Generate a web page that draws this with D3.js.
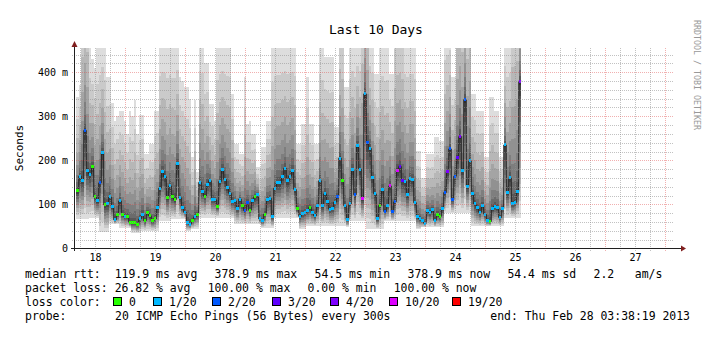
<!DOCTYPE html>
<html><head><meta charset="utf-8">
<script src="https://cdn.jsdelivr.net/npm/d3@7"></script>
<style>
body{margin:0;background:#fff}
svg{display:block}
text{font-family:"DejaVu Sans Mono",monospace;white-space:pre;fill:#000}
</style>
</head><body>
<svg id="c" width="716" height="341"></svg>
<script>
// ---- data (hourly consolidated medians, ms) ----
const median = [
131,164,155,268,177,169,187,117,108,149,
218,99,101,117,95,65,77,108,78,73,
72,59,59,59,55,67,78,63,81,74,
63,67,92,137,175,163,116,142,119,111,
192,115,93,82,59,55,
63,72,78,150,130,119,146,154,112,111,
96,152,180,157,139,125,107,108,91,112,
98,86,104,87,108,117,122,67,63,78,
112,114,72,137,149,149,164,182,154,164,
178,134,90,73,79,82,
86,93,82,74,97,154,97,124,107,89,
91,105,119,205,155,97,65,101,180,122,
234,180,114,351,240,227,161,124,67,98,
133,84,97,142,84,106,177,186,154,152,
122,158,157,104,73,67,
63,57,86,81,88,64,78,73,90,127,
174,226,111,164,206,254,177,338,141,199,
124,101,92,82,97,78,64,61,90,96,
93,70,91,235,127,160,101,104,129,380];
// loss level index per point (into lossLabels)
const lossIdx = [
0,1,1,2,1,1,0,0,1,2,
1,0,1,1,1,1,0,1,0,1,
0,0,0,0,0,1,1,0,0,0,
0,0,1,1,1,1,0,1,0,0,
1,1,1,1,1,1,
0,1,0,1,1,0,1,1,1,1,
0,1,1,1,1,1,1,1,1,1,
0,2,2,0,1,0,1,1,1,0,
1,1,1,1,1,1,1,1,1,1,
1,1,0,1,1,1,
1,0,1,1,1,1,1,1,1,1,
1,1,2,1,0,1,1,1,1,2,
1,1,5,1,2,1,1,1,1,0,
1,2,1,5,2,2,5,3,3,1,
1,1,1,1,1,1,
1,1,1,1,1,1,0,0,1,2,
4,2,2,2,3,4,1,2,1,1,
1,1,1,1,1,1,1,0,1,1,
1,1,1,1,1,1,1,1,1,4];
// slowest ping per point (ms, estimated; columns clipped at the top estimated above the frame)
const hiPing = [
344,370,650,650,650,455,430,410,455,470,
470,470,390,390,330,290,300,313,313,290,
260,313,300,336,260,302,302,215,215,237,
237,313,313,470,470,470,470,470,470,470,
470,390,380,366,366,340,
207,336,173,480,480,420,420,328,328,290,
470,470,470,470,470,470,351,237,237,215,
215,390,283,290,260,260,184,184,230,230,
290,290,470,470,470,470,470,470,470,470,
470,470,237,237,283,283,
390,283,283,237,237,470,470,435,435,435,
435,275,275,560,560,366,366,470,470,470,
470,470,650,650,650,470,470,397,397,470,
470,470,470,397,397,560,560,560,560,470,
470,470,470,470,222,222,
161,161,215,215,215,252,252,245,245,520,
520,520,390,390,650,650,650,650,650,650,
351,351,313,313,313,207,207,344,344,313,
313,207,207,470,470,470,650,650,650,650];
// fastest ping per point (ms)
const loPing = [
68,68,68,68,68,70,70,70,70,38,
38,38,38,55,55,55,55,47,47,47,
47,47,36,36,36,36,40,40,40,40,
40,40,40,62,62,62,62,62,67,67,
67,67,67,67,40,40,
45,45,45,70,70,70,70,70,70,70,
70,70,70,70,70,70,70,55,55,55,
55,55,55,55,55,55,55,55,47,47,
47,47,47,70,70,70,70,70,70,70,
70,70,70,44,44,44,
51,51,51,51,51,51,51,51,51,51,
51,51,51,51,51,51,48,62,62,62,
62,62,62,62,44,44,44,44,44,44,
44,62,62,62,62,62,62,62,62,62,
62,62,62,62,44,44,
48,48,48,48,48,48,48,48,48,80,
80,80,80,80,80,80,80,80,80,80,
50,50,50,50,50,50,50,50,50,50,
50,50,50,70,70,70,70,70,70,70];
const lossLabels = ["0","1/20","2/20","3/20","4/20","10/20","19/20"];
const lossColors = ["#26ff00","#00b8ff","#0059ff","#5e00ff","#7e00ff","#dd00ff","#ff0000"];
const dayLabels = ["18","19","20","21","22","23","24","25","26","27"];
const yTicks = [0,100,200,300,400];
const spanHours = 240;          // last 10 days
const firstMidnight = 20.362;   // hours from graph start to Feb 19 00:00
const firstBin = 0.9;           // hours from graph start to first hourly bin
const yMax = 455;
const rttLegend = ["median rtt:  ","119.9 ms avg  ","378.9 ms max  ","54.5 ms min  ","378.9 ms now  ","54.4 ms sd  ","2.2   am/s"];
const lossLegend = ["packet loss: ","26.82 % avg  ","100.00 % max  ","0.00 % min  ","100.00 % now"];
const probeText = "20 ICMP Echo Pings (56 Bytes) every 300s";
const endText = "end: Thu Feb 28 03:38:19 2013";

// ---- drawing ----
const svg = d3.select("#c");
svg.append("rect").attr("width",716).attr("height",341).attr("fill","#fff");
const L=74, R=674, T=48, B=248.5;
const x = d3.scaleLinear().domain([0,spanHours]).range([L,R]);
const y = d3.scaleLinear().domain([0,yMax]).range([B,T]);

svg.append("defs").append("clipPath").attr("id","pc")
  .append("rect").attr("x",L).attr("y",T).attr("width",R-L).attr("height",B-T);

const pts = median.map((m,i)=>({h:firstBin+i, med:m,
  lo:Math.min(loPing[i], m*0.85), hi:Math.max(hiPing[i], m*1.1), loss:lossIdx[i]}));
const ext = pts.concat([Object.assign({},pts[pts.length-1],{h:pts[pts.length-1].h+1})]);
function ping(p,k){
  const u=(k-1)/19;
  if(u<0.5) return p.med-(p.med-p.lo)*Math.pow((0.5-u)/0.5,1.2);
  return p.med+(p.hi-p.med)*Math.pow((u-0.5)/0.5,2.4);
}
const g = svg.append("g").attr("clip-path","url(#pc)");
for(let k=1;k<=10;k++){
  const c = 50 + Math.floor(190/10*(10-k));
  const area = d3.area().curve(d3.curveStepAfter)
    .x(d=>x(d.h)).y0(d=>y(ping(d,k))).y1(d=>y(ping(d,21-k)));
  g.append("path").datum(ext).attr("d",area)
    .attr("fill",d3.rgb(c,c,c)).attr("shape-rendering","crispEdges");
}
// median line
g.append("path").datum(ext)
  .attr("d",d3.line().curve(d3.curveStepAfter).x(d=>x(d.h)).y(d=>y(d.med)))
  .attr("fill","none").attr("stroke","#202020").attr("stroke-width",1);
// loss-colored medians
g.selectAll("rect.med").data(pts).enter().append("rect")
  .attr("x",d=>x(d.h)).attr("width",d=>x(d.h+1)-x(d.h))
  .attr("y",d=>y(d.med)-1.5).attr("height",3)
  .attr("fill",d=>lossColors[d.loss]).attr("shape-rendering","crispEdges");

// grid (on top)
const grid = svg.append("g").attr("stroke-dasharray","1,1").attr("shape-rendering","crispEdges");
const minorY = d3.range(20,yMax,20).filter(v=>v%100!==0);
const majorY = yTicks.filter(v=>v>0);
const gridCol = "rgba(143,143,143,0.55)", mgridCol = "rgba(225,80,80,0.45)";
grid.selectAll("line.hy").data(minorY).enter().append("line")
  .attr("x1",L-2).attr("x2",R).attr("y1",d=>Math.round(y(d))+0.5).attr("y2",d=>Math.round(y(d))+0.5)
  .attr("stroke",gridCol);
const minorX = d3.range(firstMidnight-18, spanHours, 6).filter(h=>h>0 && Math.abs(((h-firstMidnight)%24+24)%24)>0.01);
const majorX = d3.range(firstMidnight, spanHours, 24);
grid.selectAll("line.vx").data(minorX).enter().append("line")
  .attr("y1",T).attr("y2",B+2).attr("x1",d=>Math.round(x(d))+0.5).attr("x2",d=>Math.round(x(d))+0.5)
  .attr("stroke",gridCol);
grid.selectAll("line.my").data(majorY).enter().append("line")
  .attr("x1",L-2).attr("x2",R).attr("y1",d=>Math.round(y(d))+0.5).attr("y2",d=>Math.round(y(d))+0.5)
  .attr("stroke",mgridCol);
grid.selectAll("line.mx").data(majorX).enter().append("line")
  .attr("y1",T).attr("y2",B+2).attr("x1",d=>Math.round(x(d))+0.5).attr("x2",d=>Math.round(x(d))+0.5)
  .attr("stroke",mgridCol);

// axes lines + arrows
const ax = svg.append("g").attr("shape-rendering","crispEdges");
ax.append("line").attr("x1",L-3).attr("x2",681).attr("y1",248.5).attr("y2",248.5).attr("stroke","#1f1f1f");
ax.append("line").attr("x1",L+0.5).attr("x2",L+0.5).attr("y1",251).attr("y2",44).attr("stroke","#1f1f1f");
svg.append("path").attr("d","M681,245.5 L686,248.5 L681,251.5 Z").attr("fill","#801f1f");
svg.append("path").attr("d","M71.5,47 L74.5,41 L77.5,47 Z").attr("fill","#801f1f");

// y labels
const yAxis = d3.axisLeft(y).tickValues(yTicks).tickSize(0).tickPadding(6)
  .tickFormat(d=>d===0?"0":d+" m");
const ya = svg.append("g").attr("transform",`translate(${L},0)`).call(yAxis);
ya.select(".domain").remove();
ya.selectAll("text").attr("font-family","DejaVu Sans Mono").attr("font-size",10).attr("fill","#000");

// x labels (noon of each day)
const noons = dayLabels.map((d,i)=>firstMidnight-12+24*i);
const xAxis = d3.axisBottom(x).tickValues(noons).tickSize(0).tickPadding(6)
  .tickFormat((d,i)=>dayLabels[i]);
const xa = svg.append("g").attr("transform","translate(0,248)").call(xAxis);
xa.select(".domain").remove();
xa.selectAll("text").attr("font-family","DejaVu Sans Mono").attr("font-size",10).attr("fill","#000");

// titles
svg.append("text").attr("x",376).attr("y",34).attr("text-anchor","middle")
  .attr("font-size",13).text("Last 10 Days");
svg.append("text").attr("transform","translate(23,148) rotate(-90)").attr("text-anchor","middle")
  .attr("font-size",11).text("Seconds");
svg.append("text").attr("transform","translate(694,20) rotate(90)")
  .attr("font-size",8.3).style("fill","#999").text("RRDTOOL / TOBI OETIKER");

// legend (monospace cells + small glue between items, like rrdtool)
const LF = 11.45, adv = 6.9, glue = 3.3;
const base = [278,292,306,320];
function legendRow(items, yy){
  let px = 25;
  items.forEach((t,i)=>{
    svg.append("text").attr("x",px).attr("y",yy).attr("font-size",LF).text(t);
    px += t.length*adv + (i>0?glue:0);
  });
}
legendRow(rttLegend, base[0]);
legendRow(lossLegend, base[1]);
svg.append("text").attr("x",25).attr("y",base[2]).attr("font-size",LF).text("loss color:");
const boxX = [113,153,212,272,330,389,452];
lossLabels.forEach((lab,i)=>{
  svg.append("rect").attr("x",boxX[i]+0.5).attr("y",base[2]-8.5).attr("width",8).attr("height",8)
    .attr("fill",lossColors[i]).attr("stroke","#000").attr("stroke-width",1).attr("shape-rendering","crispEdges");
  svg.append("text").attr("x",boxX[i]+16).attr("y",base[2]).attr("font-size",LF).text(lab);
});
svg.append("text").attr("x",25).attr("y",base[3]).attr("font-size",LF).text("probe:");
svg.append("text").attr("x",115).attr("y",base[3]).attr("font-size",LF).text(probeText);
svg.append("text").attr("x",690).attr("y",base[3]).attr("text-anchor","end").attr("font-size",LF).text(endText);
</script>
</body></html>
